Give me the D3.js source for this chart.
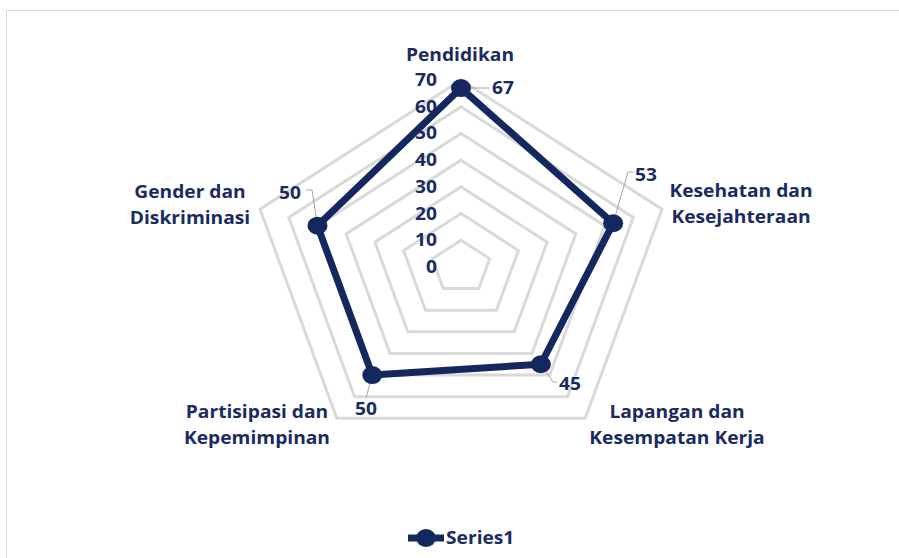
<!DOCTYPE html>
<html>
<head>
<meta charset="utf-8">
<script src="https://cdn.jsdelivr.net/npm/d3@7"></script>
<style>
  body { margin: 0; background: #fff; }
  text { font-family: "Open Sans", sans-serif; font-weight: 700; fill: #1a2b62; }
</style>
</head>
<body>
<svg id="chart" width="899" height="558"></svg>
<script>
// data
const categories = [
    ["Pendidikan"],
    ["Kesehatan dan", "Kesejahteraan"],
    ["Lapangan dan", "Kesempatan Kerja"],
    ["Partisipasi dan", "Kepemimpinan"],
    ["Gender dan", "Diskriminasi"]
]
const values = [67, 53, 45, 50, 50]
const ticks = [0, 10, 20, 30, 40, 50, 60, 70]
const seriesName = "Series1"

const navy = "#14275f"
const grid = "#d9d9d9"
const cx = 461, cy = 267
const sx = 1.13   // the picture is a bit wider than tall, text too

const svg = d3.select("#chart")

svg.append("rect")
    .attr("x", 6.5).attr("y", 10.5)
    .attr("width", 900).attr("height", 560)
    .attr("fill", "none")
    .attr("stroke", "#d9d9d9")
    .attr("stroke-width", 1)

const r = d3.scaleLinear().domain([0, 70]).range([0, 187])
const angle = d3.scaleLinear().domain([0, categories.length]).range([0, 2 * Math.PI])

function pt(i, v) {
    const a = angle(i)
    return [cx + sx * r(v) * Math.sin(a), cy - r(v) * Math.cos(a)]
}
const place = (x, y) => `translate(${x},${y}) scale(${sx},1)`

const line = d3.line().curve(d3.curveLinearClosed)

// grid rings
svg.append("g")
    .selectAll("path")
    .data(ticks.filter(t => t > 0))
    .join("path")
    .attr("d", t => line(categories.map((c, i) => pt(i, t))))
    .attr("fill", "none")
    .attr("stroke", grid)
    .attr("stroke-width", 3)

// tick labels
svg.append("g")
    .selectAll("text")
    .data(ticks)
    .join("text")
    .attr("transform", t => place(cx - 24, cy - r(t)))
    .attr("dy", "0.35em")
    .attr("text-anchor", "end")
    .attr("font-size", 17)
    .text(t => t)

// leader lines + data labels
const labelPos = [
    { lx: 492, ly: 88, anchor: "start", path: (p) => [p, [490, p[1]]] },
    { lx: 635, ly: 175, anchor: "start", path: (p) => [p, [628, 172], [633, 172]] },
    { lx: 559, ly: 384, anchor: "start", path: (p) => [p, [553, 382], [557, 382]] },
    { lx: 366, ly: 409, anchor: "middle", path: (p) => [p, [366, 398]] },
    { lx: 301, ly: 193, anchor: "end", path: (p) => [p, [312, 190], [306, 190]] }
]

const pts = values.map((v, i) => pt(i, v))

svg.append("g")
    .selectAll("path")
    .data(labelPos)
    .join("path")
    .attr("d", (d, i) => d3.line()(d.path(pts[i])))
    .attr("fill", "none")
    .attr("stroke", "#a6a6a6")
    .attr("stroke-width", 1)

// series
svg.append("path")
    .attr("d", line(pts))
    .attr("fill", "none")
    .attr("stroke", navy)
    .attr("stroke-width", 7)
    .attr("stroke-linejoin", "round")

svg.append("g")
    .selectAll("ellipse")
    .data(pts)
    .join("ellipse")
    .attr("cx", d => d[0])
    .attr("cy", d => d[1])
    .attr("rx", 10)
    .attr("ry", 9)
    .attr("fill", navy)

svg.append("g")
    .selectAll("text")
    .data(values)
    .join("text")
    .attr("transform", (d, i) => place(labelPos[i].lx, labelPos[i].ly))
    .attr("dy", "0.35em")
    .attr("text-anchor", (d, i) => labelPos[i].anchor)
    .attr("font-size", 17)
    .text(d => d)

// category labels
const catPos = [[460, 55], [741, 191], [677, 412], [257, 412], [190, 192]]

svg.append("g")
    .selectAll("text")
    .data(categories)
    .join("text")
    .attr("transform", (d, i) => place(catPos[i][0], catPos[i][1]))
    .attr("text-anchor", "middle")
    .attr("font-size", 17)
    .each(function (d) {
        d3.select(this).selectAll("tspan")
            .data(d)
            .join("tspan")
            .attr("x", 0)
            .attr("y", (s, j) => j * 26)
            .attr("dy", "0.35em")
            .text(s => s)
    })

// legend
const legend = svg.append("g").attr("transform", "translate(408, 538)")
legend.append("line")
    .attr("x1", 0).attr("x2", 36)
    .attr("stroke", navy).attr("stroke-width", 7)
legend.append("ellipse")
    .attr("cx", 18).attr("rx", 10).attr("ry", 9)
    .attr("fill", navy)
legend.append("text")
    .attr("transform", place(38, 0))
    .attr("dy", "0.35em")
    .attr("font-size", 17)
    .text(seriesName)
</script>
</body>
</html>
